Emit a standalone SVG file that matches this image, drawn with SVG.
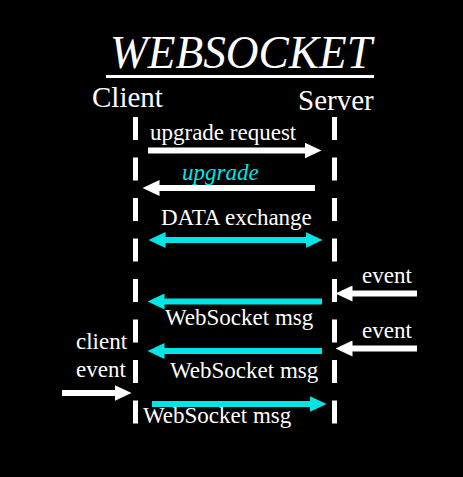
<svg xmlns="http://www.w3.org/2000/svg" width="463" height="477" viewBox="0 0 463 477">
<style>
text{font-family:"Liberation Serif","Times New Roman",serif;fill:#fff}
.lbl{font-size:23px}
.cy{fill:#00e6e6}
.life{stroke:#fff;stroke-width:5;fill:none;stroke-dasharray:23 17.5}
.w{stroke:#fff;stroke-width:6}
.c{stroke:#00e6e6;stroke-width:6}
</style>
<defs>
<marker id="hw" markerUnits="userSpaceOnUse" markerWidth="17" markerHeight="16" viewBox="0 0 17 16" refX="0.5" refY="8" orient="auto"><path d="M0,0L17,8L0,16Z" fill="#fff"/></marker>
<marker id="hc" markerUnits="userSpaceOnUse" markerWidth="17" markerHeight="16" viewBox="0 0 17 16" refX="0.5" refY="8" orient="auto-start-reverse"><path d="M0,0L17,8L0,16Z" fill="#00e6e6"/></marker>
</defs>
<rect width="463" height="477" fill="#000"/>
<g id="title">
<text x="241" y="68" text-anchor="middle" font-size="46" font-style="italic" textLength="262" lengthAdjust="spacingAndGlyphs">WEBSOCKET</text>
<rect x="106" y="75" width="268" height="3" fill="#fff"/>
</g>
<g id="client">
<text x="92" y="107" font-size="29">Client</text>
<path class="life" d="M135.5,117V425"/>
</g>
<g id="server">
<text x="298" y="110" font-size="29">Server</text>
<path class="life" d="M334.5,117V427"/>
</g>
<g id="connectors">
<line class="w" x1="148" y1="150.5" x2="305" y2="150.5" marker-end="url(#hw)"/>
<line class="w" x1="315" y1="188" x2="159" y2="188" marker-end="url(#hw)"/>
<line class="c" x1="165" y1="240" x2="306" y2="240" marker-start="url(#hc)" marker-end="url(#hc)"/>
<line class="w" x1="417" y1="293.5" x2="352" y2="293.5" marker-end="url(#hw)"/>
<line class="c" x1="322" y1="301.5" x2="164" y2="301.5" marker-end="url(#hc)"/>
<line class="w" x1="417" y1="348.5" x2="352" y2="348.5" marker-end="url(#hw)"/>
<line class="c" x1="322" y1="351" x2="164" y2="351" marker-end="url(#hc)"/>
<line class="w" x1="62" y1="393" x2="115" y2="393" marker-end="url(#hw)"/>
<line class="c" x1="152" y1="404" x2="310" y2="404" marker-end="url(#hc)"/>
</g>
<g id="labels">
<text class="lbl" x="150" y="140">upgrade request</text>
<text class="lbl cy" x="182" y="180" font-style="italic">upgrade</text>
<text class="lbl" x="161" y="225">DATA exchange</text>
<text class="lbl" x="362" y="283">event</text>
<text class="lbl" x="165" y="325">WebSocket msg</text>
<text class="lbl" x="362" y="338">event</text>
<text class="lbl" x="76" y="349">client</text>
<text class="lbl" x="76" y="377">event</text>
<text class="lbl" x="170" y="378">WebSocket msg</text>
<text class="lbl" x="143" y="423">WebSocket msg</text>
</g>
</svg>
